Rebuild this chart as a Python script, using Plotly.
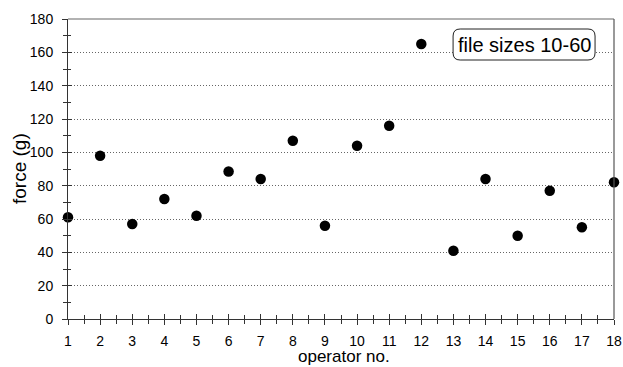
import plotly.graph_objects as go

operators = list(range(1, 19))
force_g = [61, 98, 57, 72, 62, 88.5, 84, 107, 56, 104, 116, 165, 41, 84, 50, 77, 55, 82]
x_tick_labels = [str(i) for i in operators]
y_tick_vals = list(range(0, 181, 20))
note_text = "file sizes 10-60"

FONT = "Liberation Sans, Arial, sans-serif"

fig = go.Figure()
fig.add_trace(go.Scatter(
    x=operators, y=force_g, mode="markers",
    marker=dict(color="black", size=10.5, symbol="circle"),
    cliponaxis=False, showlegend=False, hoverinfo="skip",
))
# invisible trace to host the overlaid axes (inside ticks -> crossing ticks)
fig.add_trace(go.Scatter(
    x=[operators[0]], y=[0], xaxis="x2", yaxis="y2", mode="markers",
    marker=dict(opacity=0), showlegend=False, hoverinfo="skip",
))

axis_col = "#333333"
fig.update_layout(
    width=623, height=367,
    margin=dict(l=68, r=9, t=19, b=48, autoexpand=False),
    paper_bgcolor="white", plot_bgcolor="white",
    font=dict(family=FONT, color="black", size=14),
    xaxis=dict(
        range=[1, 18], tickvals=operators, ticktext=x_tick_labels,
        ticks="outside", ticklen=5, tickwidth=1, tickcolor=axis_col,
        minor=dict(ticks="outside", dtick=0.5, tick0=1, ticklen=4, tickcolor=axis_col),
        showline=True, linecolor=axis_col, linewidth=1, automargin=False,
        showgrid=False, zeroline=False, ticklabelstandoff=4,
        tickfont=dict(size=14),
    ),
    xaxis2=dict(
        range=[1, 18], overlaying="x", anchor="y2", side="bottom", automargin=False,
        tickvals=operators, ticks="inside", ticklen=5, tickcolor=axis_col,
        minor=dict(ticks="inside", dtick=0.5, tick0=1, ticklen=4, tickcolor=axis_col),
        showticklabels=False, showline=False, showgrid=False, zeroline=False,
    ),
    yaxis=dict(
        range=[0, 180], tickvals=y_tick_vals,
        ticks="outside", ticklen=5, tickwidth=1, tickcolor=axis_col,
        minor=dict(ticks="outside", dtick=10, tick0=0, ticklen=4, tickcolor=axis_col),
        showline=True, linecolor=axis_col, linewidth=1, automargin=False,
        showgrid=True, gridcolor="#666666", griddash="1px,2px", gridwidth=1,
        zeroline=False, ticklabelstandoff=6, tickfont=dict(size=14),
    ),
    yaxis2=dict(
        range=[0, 180], overlaying="y", anchor="x2", side="left", automargin=False,
        tickvals=y_tick_vals, ticks="inside", ticklen=4, tickcolor=axis_col,
        minor=dict(ticks="inside", dtick=10, tick0=0, ticklen=3, tickcolor=axis_col),
        showticklabels=False, showline=False, showgrid=False, zeroline=False,
    ),
)

# frame: top (gray) and right border
fig.add_shape(type="line", xref="paper", yref="paper", x0=0, x1=1, y0=1, y1=1,
              line=dict(color="#999999", width=1.5))
fig.add_shape(type="line", xref="paper", yref="paper", x0=1, x1=1, y0=0, y1=1,
              line=dict(color="#555555", width=1.2))

# rounded box for the note
bx0, bx1, by0, by1 = 12.99, 17.41, 155.4, 174.0
rx, ry = 0.22, 4.2
path = (f"M {bx0+rx},{by0} L {bx1-rx},{by0} Q {bx1},{by0} {bx1},{by0+ry} "
        f"L {bx1},{by1-ry} Q {bx1},{by1} {bx1-rx},{by1} "
        f"L {bx0+rx},{by1} Q {bx0},{by1} {bx0},{by1-ry} "
        f"L {bx0},{by0+ry} Q {bx0},{by0} {bx0+rx},{by0} Z")
fig.add_shape(type="path", path=path, xref="x", yref="y",
              line=dict(color="#222222", width=1), fillcolor="white", layer="above")
fig.add_annotation(x=(bx0+bx1)/2, y=(by0+by1)/2, xref="x", yref="y",
                   text=note_text, showarrow=False,
                   font=dict(size=20, family=FONT, color="black"))

# axis titles
fig.add_annotation(x=0.5, y=0, xref="paper", yref="paper", yanchor="middle",
                   xshift=3, yshift=-37, text="operator no.", showarrow=False,
                   font=dict(size=17, family=FONT))
fig.add_annotation(x=0, y=0.5, xref="paper", yref="paper", xanchor="center",
                   xshift=-49, text="force (g)", textangle=-90, showarrow=False,
                   font=dict(size=19, family=FONT))

fig.write_html(
    "out.html",
    config={"displayModeBar": False},
    post_script="document.body.style.margin='0';document.body.style.overflow='hidden';",
)
